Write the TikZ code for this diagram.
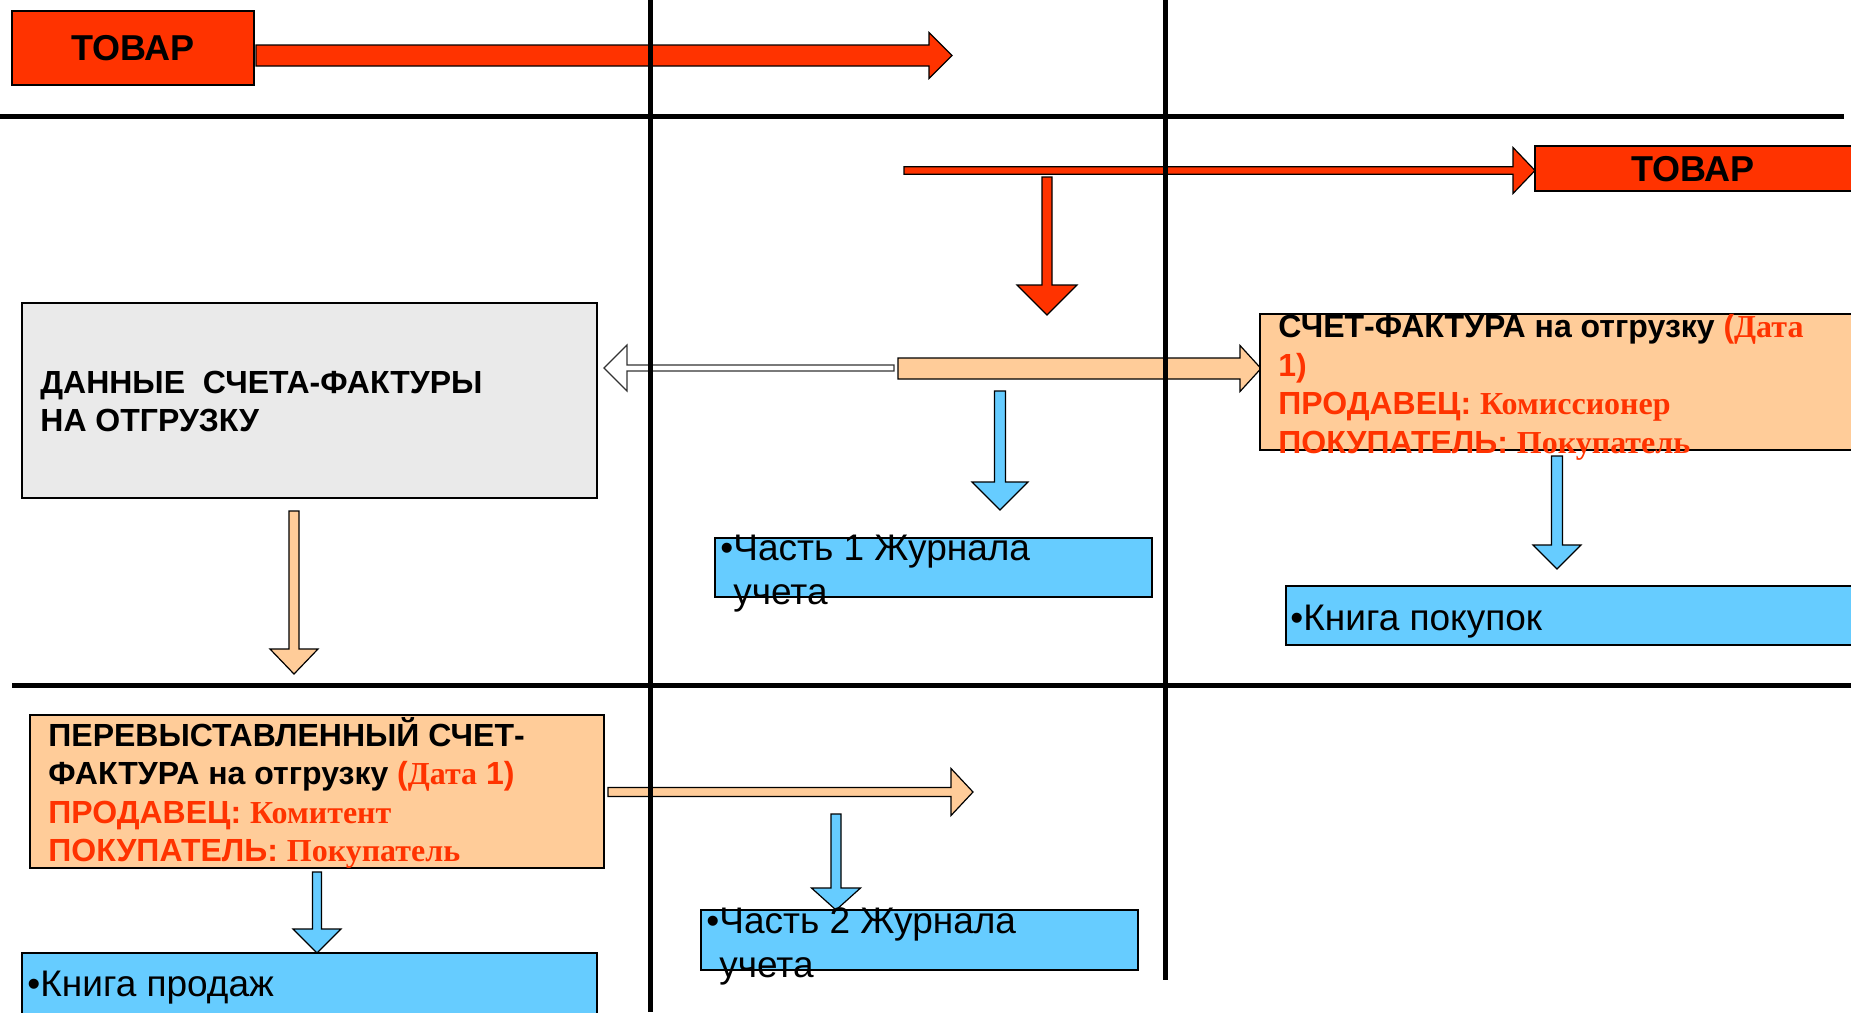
\documentclass[tikz,border=0pt]{standalone}
\usepackage{fontspec}
\setmainfont{Liberation Sans}
\newfontfamily\timesfont{Liberation Serif}
\usetikzlibrary{calc,fit}
\definecolor{tovarred}{HTML}{FF3300}
\definecolor{peach}{HTML}{FFCC99}
\definecolor{skyblue}{HTML}{66CCFF}
\definecolor{boxgray}{HTML}{EAEAEA}
\newcommand\redsans[1]{\textcolor{tovarred}{#1}}
\newcommand\redserif[1]{{\timesfont\textcolor{tovarred}{#1}}}
% block arrows: [style](from:to:axis)(shaft half:head half:head length)
\def\rightblock[#1](#2:#3:#4)(#5:#6:#7){\draw[#1] (#2,#4-#5) -- (#3-#7,#4-#5) -- (#3-#7,#4-#6) -- (#3,#4) -- (#3-#7,#4+#6) -- (#3-#7,#4+#5) -- (#2,#4+#5) -- cycle;}
\def\leftblock[#1](#2:#3:#4)(#5:#6:#7){\draw[#1] (#2,#4-#5) -- (#3+#7,#4-#5) -- (#3+#7,#4-#6) -- (#3,#4) -- (#3+#7,#4+#6) -- (#3+#7,#4+#5) -- (#2,#4+#5) -- cycle;}
\def\downblock[#1](#2:#3:#4)(#5:#6:#7){\draw[#1] (#4-#5,#2) -- (#4-#5,#3-#7) -- (#4-#6,#3-#7) -- (#4,#3) -- (#4+#6,#3-#7) -- (#4+#5,#3-#7) -- (#4+#5,#2) -- cycle;}
\tikzset{
  box/.style={draw=black, line width=1pt, inner sep=0pt},
  outline/.style={draw=black, line width=0.6pt},
  divider/.style={line width=2.5pt},
  tovartext/.style={font=\fontsize{18}{21}\selectfont\bfseries, inner sep=0pt},
  boldtext/.style={font=\fontsize{16}{19.3}\selectfont\bfseries, align=left, anchor=west, inner sep=0pt},
  bluetext/.style={font=\fontsize{18.5}{22}\selectfont, align=left, anchor=west, inner sep=0pt}
}
\begin{document}
\begin{tikzpicture}[x=0.5pt, y=-0.5pt]
		%%%%% FRAME %%%%%
		\useasboundingbox (0,0) rectangle (1851,1012);
		\clip (0,0) rectangle (1851,1012);
		
		%%%%% GOODS %%%%%
		\node[box, fill=tovarred, fit={(12,11) (254,85)}] (tovarL) {};
		\node[tovartext] (tovarLtext) at (tovarL.center) {ТОВАР};
		\rightblock[outline, fill=tovarred](256:952:55.5)(10.5:23:23);
		
		\node[box, fill=tovarred, fit={(1535,146) (1860,191)}] (tovarR) {};
		\node[tovartext] (tovarRtext) at (1693,169) {ТОВАР};
		\rightblock[outline, fill=tovarred](904:1535:170.5)(3.7:23:22);
		\downblock[outline, fill=tovarred](177:315:1047)(5:30:30);
		
		%%%%% INVOICE %%%%%
		\node[box, fill=boxgray, fit={(22,303) (597,498)}] (data) {};
		\node[boldtext] (datatext) at (40,401.5) {ДАННЫЕ \ СЧЕТА-ФАКТУРЫ\\НА ОТГРУЗКУ};
		
		\leftblock[draw=black!80, line width=0.6pt, fill=white](894:604:368)(3:23:23);
		\rightblock[outline, fill=peach](898:1261:368.5)(10.5:23:21);
		
		\node[box, fill=peach, fit={(1260,314) (1860,450)}] (sf) {};
		\node[boldtext] (sftext) at (1278,387.5) {СЧЕТ-ФАКТУРА на отгрузку \redsans{(}\redserif{Дата}\\\redsans{1)}\\\redsans{ПРОДАВЕЦ:} \redserif{Комиссионер}\\\redsans{ПОКУПАТЕЛЬ:} \redserif{Покупатель}};
		
		\downblock[outline, fill=skyblue](391:510:1000)(5.5:28:28);
		\node[box, fill=skyblue, fit={(715,538) (1152,597)}] (part1) {};
		\node[bluetext] (part1text) at (720,573.5) {•Часть 1 Журнала\\\hphantom{•}учета};
		
		\downblock[outline, fill=skyblue](456:569:1557)(5.5:24:24);
		\node[box, fill=skyblue, fit={(1286,586) (1860,645)}] (purch) {};
		\node[bluetext] (purchtext) at (1290,622) {•Книга покупок};
		
		\downblock[outline, fill=peach](511:674:294)(5:24:25);
		
		%%%%% REISSUED %%%%%
		\node[box, fill=peach, fit={(30,715) (604,868)}] (resf) {};
		\node[boldtext] (resftext) at (48,793) {ПЕРЕВЫСТАВЛЕННЫЙ СЧЕТ-\\ФАКТУРА на отгрузку \redsans{(}\redserif{Дата} \redsans{1)}\\\redsans{ПРОДАВЕЦ:} \redserif{Комитент}\\\redsans{ПОКУПАТЕЛЬ:} \redserif{Покупатель}};
		
		\rightblock[outline, fill=peach](608:973:792)(4.5:23.5:22);
		
		\downblock[outline, fill=skyblue](872:953:317)(4.5:24:24);
		\node[box, fill=skyblue, fit={(22,953) (597,1020)}] (sales) {};
		\node[bluetext] (salestext) at (27,988) {•Книга продаж};
		
		\downblock[outline, fill=skyblue](814:910:836)(5:24.5:22);
		\node[box, fill=skyblue, fit={(701,910) (1138,970)}] (part2) {};
		\node[bluetext] (part2text) at (706,946.5) {•Часть 2 Журнала\\\hphantom{•}учета};
		
		%%%%% LINES %%%%%
		\draw[divider] (0,116) -- (1844,116);
		\draw[divider] (12,685) -- (1851,685);
		\draw[divider] (650,0) -- (650,1012);
		\draw[divider] (1165,0) -- (1165,980);
\end{tikzpicture}
\end{document}
